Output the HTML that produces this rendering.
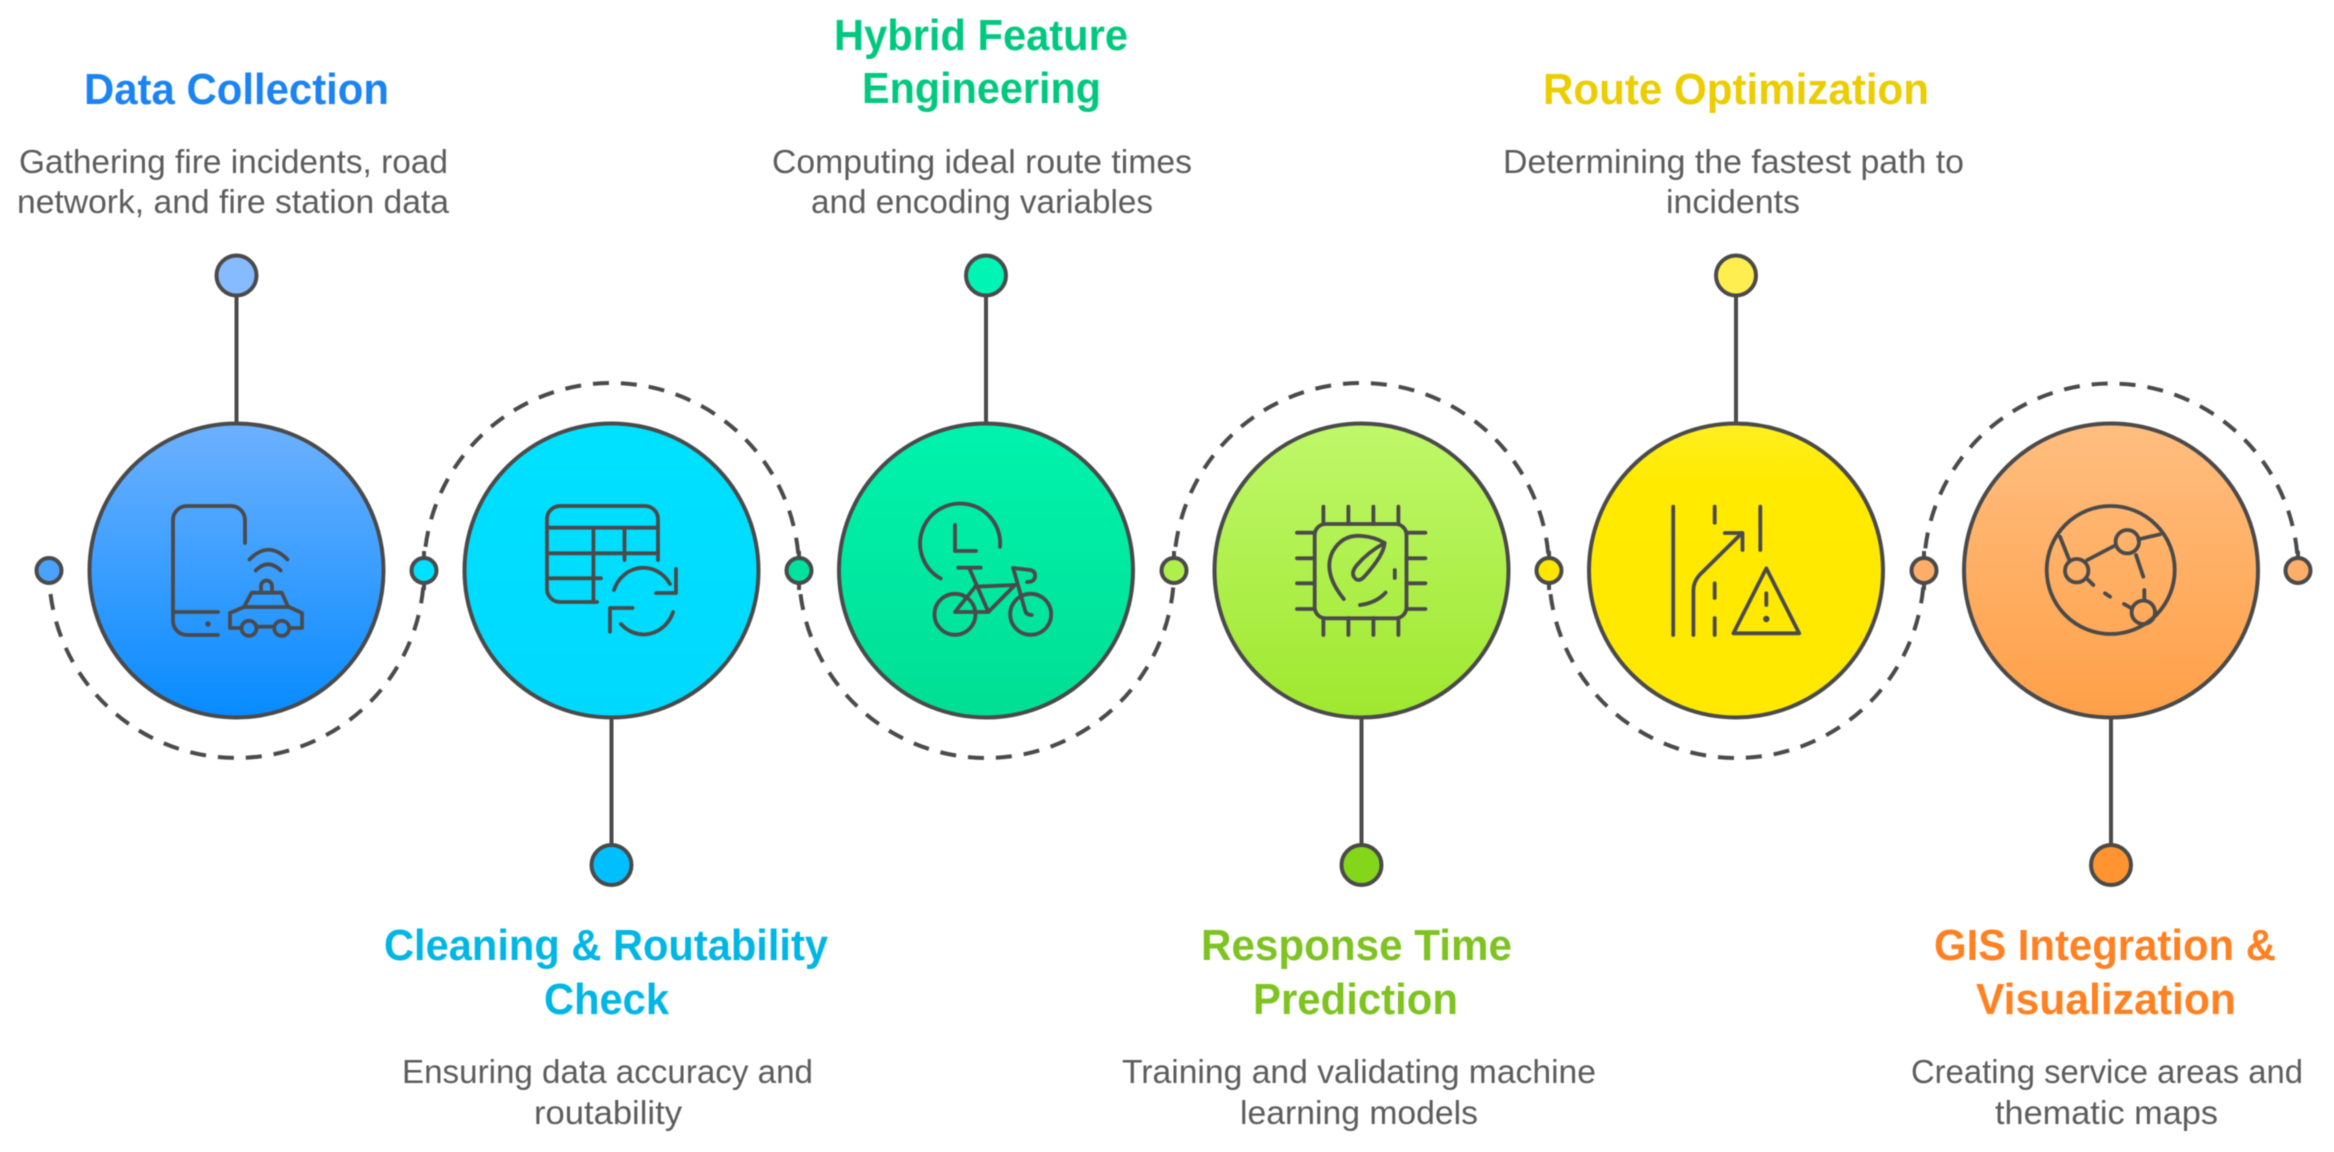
<!DOCTYPE html>
<html>
<head>
<meta charset="utf-8">
<style>
html,body{margin:0;padding:0;background:#fff;width:2334px;height:1152px;overflow:hidden}
svg{display:block;filter:blur(0.6px)}
.t{font-family:"Liberation Sans",sans-serif;font-weight:700;font-size:44px}
.d{font-family:"Liberation Sans",sans-serif;font-size:33.500px;fill:#5c5c5c}
.ic{fill:none;stroke:#4a4a4a;stroke-width:3.800;stroke-linecap:round;stroke-linejoin:round}
.arc{fill:none;stroke:#4a4a4a;stroke-width:4;stroke-dasharray:16 12;stroke-dashoffset:11}
.ln{stroke:#4a4a4a;stroke-width:4}
.c{stroke:#4a4a4a;stroke-width:4}
.o{stroke:#4a4a4a;stroke-width:4}
</style>
</head>
<body>
<svg width="2334" height="1152" viewBox="0 0 2334 1152" xmlns="http://www.w3.org/2000/svg">
<defs>
<linearGradient id="g1" x1="0" y1="0" x2="0" y2="1"><stop offset="0" stop-color="#6DB1FF"/><stop offset="1" stop-color="#078BFF"/></linearGradient>
<linearGradient id="g2" x1="0" y1="0" x2="0" y2="1"><stop offset="0" stop-color="#00E1FF"/><stop offset="1" stop-color="#00D9FF"/></linearGradient>
<linearGradient id="g3" x1="0" y1="0" x2="0" y2="1"><stop offset="0" stop-color="#00F3AE"/><stop offset="1" stop-color="#00DF93"/></linearGradient>
<linearGradient id="g4" x1="0" y1="0" x2="0" y2="1"><stop offset="0" stop-color="#BFF86A"/><stop offset="1" stop-color="#9FE82F"/></linearGradient>
<linearGradient id="g5" x1="0" y1="0" x2="0" y2="1"><stop offset="0" stop-color="#FFEF22"/><stop offset="0.2" stop-color="#FFEA00"/><stop offset="1" stop-color="#FFE900"/></linearGradient>
<linearGradient id="g6" x1="0" y1="0" x2="0" y2="1"><stop offset="0" stop-color="#FFBE80"/><stop offset="1" stop-color="#FFA048"/></linearGradient>
</defs>

<!-- dashed arcs -->
<path class="arc" d="M424 570.500 A187.500 187.500 0 0 1 49 570.500"/>
<path class="arc" d="M799 570.500 A187.500 187.500 0 0 0 424 570.500"/>
<path class="arc" d="M1174 570.500 A187.500 187.500 0 0 1 799 570.500"/>
<path class="arc" d="M1549 570.500 A187.500 187.500 0 0 0 1174 570.500"/>
<path class="arc" d="M1924 570.500 A187.500 187.500 0 0 1 1549 570.500"/>
<path class="arc" d="M2298 570.500 A187 187 0 0 0 1924 570.500"/>
<g class="ln">
<path d="M424 582V590M799 582V590M1549 582V590M1924 582V590M424 559V551M799 559V551M1174 559V551M1549 559V551M1924 559V551M2298 559V551" fill="none"/>
</g>

<!-- stems -->
<path class="ln" d="M236.500 276V424M986 276V424M1736 276V424M611.500 718V865M1361.500 718V865M2111 718V865" fill="none"/>

<!-- main circles -->
<circle class="c" cx="236.500" cy="570.500" r="147" fill="url(#g1)"/>
<circle class="c" cx="611.500" cy="570.500" r="147" fill="url(#g2)"/>
<circle class="c" cx="986" cy="570.500" r="147" fill="url(#g3)"/>
<circle class="c" cx="1361.500" cy="570.500" r="147" fill="url(#g4)"/>
<circle class="c" cx="1736" cy="570.500" r="147" fill="url(#g5)"/>
<circle class="c" cx="2111" cy="570.500" r="147" fill="url(#g6)"/>

<!-- small dots on axis -->
<circle class="o" cx="49" cy="570.500" r="12.500" fill="#4BA3FF"/>
<circle class="o" cx="424" cy="570.500" r="12.500" fill="#00E0FF"/>
<circle class="o" cx="799" cy="570.500" r="12.500" fill="#00E29F"/>
<circle class="o" cx="1174" cy="570.500" r="12.500" fill="#AFEF4C"/>
<circle class="o" cx="1549" cy="570.500" r="12.500" fill="#FFE600"/>
<circle class="o" cx="1924" cy="570.500" r="12.500" fill="#FFAE6A"/>
<circle class="o" cx="2298" cy="570.500" r="12.500" fill="#FFAE6A"/>

<!-- stem-end dots -->
<circle class="o" cx="236.500" cy="275.500" r="20" fill="#87BBFF"/>
<circle class="o" cx="986" cy="275.500" r="20" fill="#00F5B5"/>
<circle class="o" cx="1736" cy="275.500" r="20" fill="#FFEE50"/>
<circle class="o" cx="611.500" cy="865" r="20" fill="#00BFFF"/>
<circle class="o" cx="1361.500" cy="865" r="20" fill="#83D61A"/>
<circle class="o" cx="2111" cy="865" r="20" fill="#FF9430"/>

<!-- icon 1: phone + car -->
<g class="ic">
<path d="M245 543V520a14 14 0 0 0-14-14H187a14 14 0 0 0-14 14V621a14 14 0 0 0 14 14H218"/>
<path d="M173 612H218"/>
<path d="M249.500 559.500Q268.500 540 287.500 559.500"/>
<path d="M255.700 570.500Q268.200 558 280.700 570.500"/>
<path d="M261 592V586a5.500 5.500 0 0 1 11 0V592"/>
<path d="M244 607L251.700 592.700H281.700L288.300 607"/>
<path d="M230 613L244 607H289L302 613V628H289.500M241.500 628H230V613M256.500 626.700H274"/>
<circle cx="249" cy="628.300" r="7.500"/>
<circle cx="281.700" cy="628.300" r="7.500"/>
</g>
<circle cx="208" cy="624" r="2.800" fill="#4a4a4a"/>

<!-- icon 2: table + refresh -->
<g class="ic">
<path d="M658 560V519a13 13 0 0 0-13-13H560a13 13 0 0 0-13 13V589a13 13 0 0 0 13 13H597"/>
<path d="M547 527.700H658M547 553.300H658M547 578.300H601M593.400 527.700V602M624.500 527.700V560"/>
<path d="M614 590A31 33 0 0 1 670 584"/>
<path d="M676 569V593H656"/>
<path d="M673 612A31 33 0 0 1 621 624"/>
<path d="M610 631.700V608H632.600"/>
</g>

<!-- icon 3: clock + bike -->
<g class="ic">
<path d="M1000 546.700A40 40 0 1 0 940.700 578.500"/>
<path d="M955 525V551H976"/>
<path d="M958.300 567.700H980.700M969.300 568.300L988.300 611.700"/>
<circle cx="955" cy="614.300" r="20.500"/>
<circle cx="1030.700" cy="614.300" r="20.500"/>
<path d="M975 586.700L1015 585L988.300 612H955L975 587"/>
<path d="M1013.300 568.300L1025 610Q1026 615 1031.700 615"/>
<path d="M1013 568L1030 570Q1036 571 1035 577Q1034 582 1027 582"/>
</g>

<!-- icon 4: chip + gauge -->
<g class="ic">
<rect x="1314.700" y="524" width="91.800" height="94.300" rx="11"/>
<path d="M1323.400 506.700V524M1348.400 506.700V524M1373.400 506.700V524M1398.400 506.700V524"/>
<path d="M1323.400 618V635M1348.400 618V635M1373.400 618V635M1398.400 618V635"/>
<path d="M1297 532.700H1314.700M1297 558.300H1314.700M1297 583.300H1314.700M1297 609H1314.700"/>
<path d="M1406.500 532.700H1425.400M1406.500 558.300H1425.400M1406.500 583.300H1425.400M1406.500 609H1425.400"/>
<path d="M1343.800 599Q1322 572 1333 551Q1343 534 1362 536Q1375 537 1384.600 543"/>
<path d="M1384.600 543Q1384 555 1364 577Q1358 583 1354 577Q1351 572 1357 565Q1368 552 1384.600 543Z"/>
<path d="M1394.800 570V578"/>
<path d="M1360 605Q1376 603 1385.600 592.700"/>
</g>

<!-- icon 5: road + warning -->
<g class="ic">
<path d="M1673.200 506.700V635"/>
<path d="M1693.400 635V590Q1693.400 582 1699.500 575L1742 533"/>
<path d="M1724.800 533H1742.500V550"/>
<path d="M1714.700 506.700V522.700M1714.700 583.300V598M1714.700 618V635"/>
<path d="M1760.300 506.700V550"/>
<path d="M1766.300 568.300L1799.200 633.300H1733.400Z"/>
<path d="M1766.300 593.300V605"/>
</g>
<circle cx="1766.300" cy="619" r="3.200" fill="#4a4a4a"/>

<!-- icon 6: network globe -->
<g class="ic">
<circle cx="2110.700" cy="570" r="64"/>
<circle cx="2076.700" cy="570.700" r="11.700"/>
<circle cx="2127.300" cy="541.700" r="11.700"/>
<circle cx="2143.300" cy="612.300" r="11.700"/>
<path d="M2060 536.700L2069.300 560M2087.300 560L2116 545M2138.300 539.300L2160 534.300M2136 555L2143.300 576.700M2144.300 590V600M2088.300 580L2093.300 585M2105 593.300L2110 596.700M2124 604L2131.700 608.300"/>
</g>

<!-- titles -->
<text class="t" fill="#1B84F2" x="84" y="104" textLength="305" lengthAdjust="spacingAndGlyphs">Data Collection</text>
<text class="t" fill="#00C97F" x="834" y="50" textLength="294" lengthAdjust="spacingAndGlyphs">Hybrid Feature</text>
<text class="t" fill="#00C97F" x="862" y="103" textLength="239" lengthAdjust="spacingAndGlyphs">Engineering</text>
<text class="t" fill="#EBCD00" x="1543" y="104" textLength="386" lengthAdjust="spacingAndGlyphs">Route Optimization</text>
<text class="t" fill="#00B6E4" x="384" y="960" textLength="444" lengthAdjust="spacingAndGlyphs">Cleaning &amp; Routability</text>
<text class="t" fill="#00B6E4" x="544" y="1014" textLength="125" lengthAdjust="spacingAndGlyphs">Check</text>
<text class="t" fill="#7EC321" x="1201" y="960" textLength="311" lengthAdjust="spacingAndGlyphs">Response Time</text>
<text class="t" fill="#7EC321" x="1253" y="1014" textLength="205" lengthAdjust="spacingAndGlyphs">Prediction</text>
<text class="t" fill="#FF8122" x="1934" y="960" textLength="342" lengthAdjust="spacingAndGlyphs">GIS Integration &amp;</text>
<text class="t" fill="#FF8122" x="1976" y="1014" textLength="260" lengthAdjust="spacingAndGlyphs">Visualization</text>

<!-- descriptions -->
<text class="d" x="19" y="173" textLength="429" lengthAdjust="spacingAndGlyphs">Gathering fire incidents, road</text>
<text class="d" x="17" y="213" textLength="432" lengthAdjust="spacingAndGlyphs">network, and fire station data</text>
<text class="d" x="772" y="173" textLength="420" lengthAdjust="spacingAndGlyphs">Computing ideal route times</text>
<text class="d" x="811" y="213" textLength="342" lengthAdjust="spacingAndGlyphs">and encoding variables</text>
<text class="d" x="1503" y="173" textLength="461" lengthAdjust="spacingAndGlyphs">Determining the fastest path to</text>
<text class="d" x="1666" y="213" textLength="134" lengthAdjust="spacingAndGlyphs">incidents</text>
<text class="d" x="402" y="1083" textLength="411" lengthAdjust="spacingAndGlyphs">Ensuring data accuracy and</text>
<text class="d" x="534" y="1124" textLength="148" lengthAdjust="spacingAndGlyphs">routability</text>
<text class="d" x="1122" y="1083" textLength="474" lengthAdjust="spacingAndGlyphs">Training and validating machine</text>
<text class="d" x="1240" y="1124" textLength="238" lengthAdjust="spacingAndGlyphs">learning models</text>
<text class="d" x="1911" y="1083" textLength="392" lengthAdjust="spacingAndGlyphs">Creating service areas and</text>
<text class="d" x="1995" y="1124" textLength="223" lengthAdjust="spacingAndGlyphs">thematic maps</text>
</svg>
</body>
</html>
